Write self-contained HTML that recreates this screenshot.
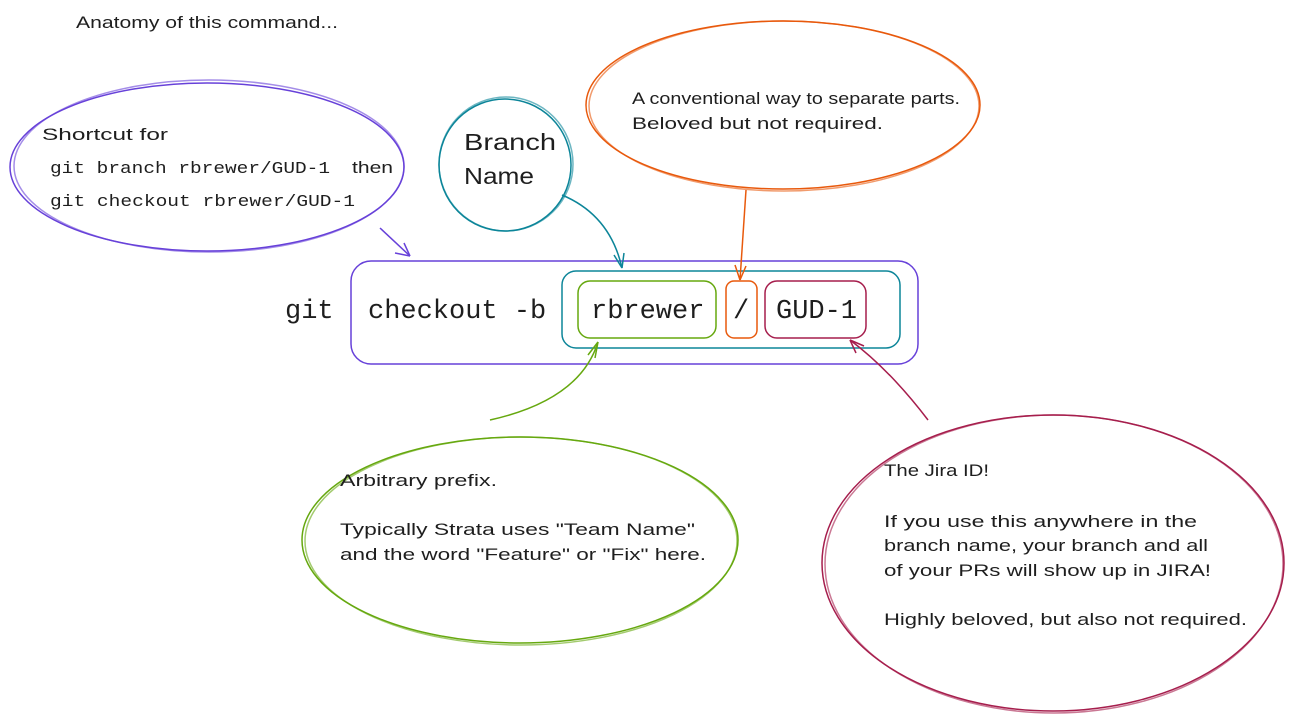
<!DOCTYPE html>
<html><head><meta charset="utf-8"><style>
body{margin:0;background:#fff;}
svg{display:block}
.h{font-family:"Liberation Sans",sans-serif;fill:#1e1e1e}
.m{font-family:"Liberation Mono",monospace;fill:#1e1e1e}
</style></head><body>
<svg width="1295" height="724" viewBox="0 0 1295 724" xmlns="http://www.w3.org/2000/svg" fill="none" stroke-width="1.5">
<text class="h" x="76" y="28" font-size="17" textLength="262" lengthAdjust="spacingAndGlyphs">Anatomy of this command...</text>

<ellipse cx="207" cy="167" rx="197" ry="84" stroke="#6741d9"/>
<ellipse cx="209" cy="166" rx="195" ry="86" stroke="#6741d9" opacity=".6"/>
<text class="h" x="42" y="140" font-size="17" textLength="126" lengthAdjust="spacingAndGlyphs">Shortcut for</text>
<text class="m" x="50" y="173" font-size="17" textLength="280" lengthAdjust="spacingAndGlyphs">git branch rbrewer/GUD-1</text>
<text class="h" x="352" y="173" font-size="17" textLength="41" lengthAdjust="spacingAndGlyphs">then</text>
<text class="m" x="50" y="206" font-size="17" textLength="305" lengthAdjust="spacingAndGlyphs">git checkout rbrewer/GUD-1</text>

<circle cx="505" cy="165" r="66" stroke="#0c8599"/>
<circle cx="506" cy="164" r="67" stroke="#0c8599" opacity=".6"/>
<text class="h" x="464" y="150" font-size="23" textLength="92" lengthAdjust="spacingAndGlyphs">Branch</text>
<text class="h" x="464" y="184" font-size="23" textLength="70" lengthAdjust="spacingAndGlyphs">Name</text>

<ellipse cx="783" cy="105" rx="197" ry="84" stroke="#e8590c"/>
<ellipse cx="784" cy="106" rx="195" ry="85" stroke="#e8590c" opacity=".6"/>
<text class="h" x="632" y="104" font-size="17" textLength="328" lengthAdjust="spacingAndGlyphs">A conventional way to separate parts.</text>
<text class="h" x="632" y="129" font-size="17" textLength="251" lengthAdjust="spacingAndGlyphs">Beloved but not required.</text>

<ellipse cx="520" cy="540" rx="218" ry="103" stroke="#66a80f"/>
<ellipse cx="521" cy="541" rx="216" ry="104" stroke="#66a80f" opacity=".6"/>
<text class="h" x="340" y="486" font-size="17" textLength="157" lengthAdjust="spacingAndGlyphs">Arbitrary prefix.</text>
<text class="h" x="340" y="535" font-size="17" textLength="355" lengthAdjust="spacingAndGlyphs">Typically Strata uses "Team Name"</text>
<text class="h" x="340" y="560" font-size="17" textLength="366" lengthAdjust="spacingAndGlyphs">and the word "Feature" or "Fix" here.</text>

<ellipse cx="1053" cy="563" rx="231" ry="148" stroke="#a61e4d"/>
<ellipse cx="1054" cy="564" rx="229" ry="149" stroke="#a61e4d" opacity=".6"/>
<text class="h" x="884" y="476" font-size="17" textLength="105" lengthAdjust="spacingAndGlyphs">The Jira ID!</text>
<text class="h" x="884" y="527" font-size="17" textLength="313" lengthAdjust="spacingAndGlyphs">If you use this anywhere in the</text>
<text class="h" x="884" y="551" font-size="17" textLength="324" lengthAdjust="spacingAndGlyphs">branch name, your branch and all</text>
<text class="h" x="884" y="576" font-size="17" textLength="327" lengthAdjust="spacingAndGlyphs">of your PRs will show up in JIRA!</text>
<text class="h" x="884" y="625" font-size="17" textLength="363" lengthAdjust="spacingAndGlyphs">Highly beloved, but also not required.</text>

<rect x="351" y="261" width="567" height="103" rx="20" stroke="#6741d9"/>
<rect x="562" y="271" width="338" height="77" rx="14" stroke="#0c8599"/>
<rect x="578" y="281" width="138" height="57" rx="12" stroke="#66a80f"/>
<rect x="726" y="281" width="31" height="57" rx="8" stroke="#e8590c"/>
<rect x="765" y="281" width="101" height="57" rx="12" stroke="#a61e4d"/>

<text class="m" x="285" y="318" font-size="27">git</text>
<text class="m" x="368" y="318" font-size="27">checkout -b</text>
<text class="m" x="591" y="318" font-size="27">rbrewer</text>
<text class="m" x="733" y="318" font-size="27">/</text>
<text class="m" x="776" y="318" font-size="27">GUD-1</text>

<g stroke="#6741d9"><path d="M380 228 L410 256"/><path d="M410 256 L395 253 M410 256 L404 243"/></g>
<g stroke="#0c8599"><path d="M562 195 Q610 215 622 268"/><path d="M622 268 L614 255 M622 268 L624 253"/></g>
<g stroke="#e8590c"><path d="M746 190 L740 280"/><path d="M740 280 L735 265 M740 280 L746 266"/></g>
<g stroke="#66a80f"><path d="M490 420 Q580 400 598 342"/><path d="M598 342 L588 355 M598 342 L595 358"/></g>
<g stroke="#a61e4d"><path d="M928 420 Q890 370 850 340"/><path d="M850 340 L856 353 M850 340 L864 346"/></g>
</svg>
</body></html>
